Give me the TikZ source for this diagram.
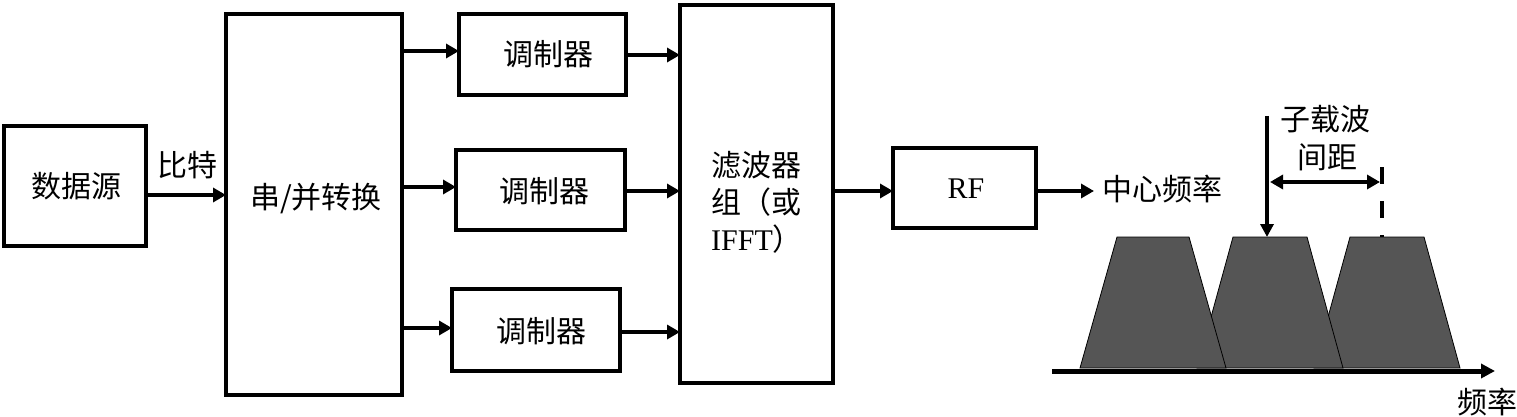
\documentclass[tikz,border=0pt]{standalone}
\usepackage{fontspec}
\setmainfont{Liberation Serif}
\newfontfamily\cjk{Noto Sans CJK SC}
\usetikzlibrary{arrows.meta}
\definecolor{trapgray}{RGB}{85,85,85}
\tikzset{
  blk/.style={draw=black, line width=3.8pt, fill=white, inner sep=0pt, outer sep=0pt},
  txt/.style={font=\cjk\fontsize{30}{37}\selectfont, inner sep=0pt},
  arr/.style={line width=4pt, -{Triangle[length=13pt,width=14pt]}},
  darr/.style={line width=3.5pt, {Triangle[length=13pt,width=14pt]}-{Triangle[length=13pt,width=14pt]}},
  trap/.style={fill=trapgray, draw=black, line width=0.8pt},
}
\begin{document}
\begin{tikzpicture}[x=1pt,y=-1pt]
\useasboundingbox (0,0) rectangle (1517,417);
% blocks
\node[blk, minimum width=142pt, minimum height=120pt] (src) at (75,186) {};
\node[txt] (srct) at (76,186) {数据源};
\node[blk, minimum width=176pt, minimum height=381pt] (sp) at (314,204.5) {};
\node[txt] (spt) at (316,199) {串/并转换};
\node[blk, minimum width=167pt, minimum height=81pt] (m1) at (542.5,54.5) {};
\node[txt] (m1t) at (548,54) {调制器};
\node[blk, minimum width=169pt, minimum height=80pt] (m2) at (540.5,190) {};
\node[txt] (m2t) at (544,191) {调制器};
\node[blk, minimum width=168pt, minimum height=82pt] (m3) at (536,330) {};
\node[txt] (m3t) at (541,331) {调制器};
\node[blk, minimum width=153pt, minimum height=378pt] (filt) at (756.5,194) {};
\node[txt, align=left] (filtt) at (757,202) {滤波器\\组（或\\{\rmfamily IFFT}）};
\node[blk, minimum width=143pt, minimum height=80pt] (rf) at (964.5,188) {};
\node[inner sep=0pt, font=\fontsize{30}{35}\selectfont] (rft) at (966,189) {RF};
% labels
\node[txt] (bit) at (187,165) {比特};
\node[txt, anchor=west] (fc) at (1102,189) {中心频率};
\node[txt] (sub1) at (1325,119) {子载波};
\node[txt] (sub2) at (1327,157) {间距};
\node[txt] (freq) at (1487,402) {频率};
% connectors
\draw[arr] (src.east |- 0,195) -- (sp.west |- 0,195);
\draw[arr] (sp.east |- 0,51) -- (m1.west |- 0,51);
\draw[arr] (sp.east |- 0,187) -- (m2.west |- 0,187);
\draw[arr] (sp.east |- 0,328) -- (m3.west |- 0,328);
\draw[arr] (m1.east |- 0,55) -- (filt.west |- 0,55);
\draw[arr] (m2.east |- 0,191) -- (filt.west |- 0,191);
\draw[arr] (m3.east |- 0,332) -- (filt.west |- 0,332);
\draw[arr] (filt.east |- 0,191) -- (rf.west |- 0,191);
\coordinate (fcend) at (1094,191);
\draw[arr] (rf.east |- 0,191) -- (fcend);
% spectrum
\draw[trap] (1314,368) -- (1350,237) -- (1424,237) -- (1460,368) -- cycle;
\draw[trap] (1197,368) -- (1233,237) -- (1307,237) -- (1343,368) -- cycle;
\draw[trap] (1080,368) -- (1117,237) -- (1189,237) -- (1226,368) -- cycle;
\coordinate (ax0) at (1052,371);
\coordinate (ax1) at (1495,371);
\draw[line width=5pt, -{Triangle[length=14pt,width=14pt]}] (ax0) -- (ax1);
\coordinate (dn0) at (1267,116);
\coordinate (dn1) at (1267,237);
\draw[line width=3.5pt, -{Triangle[length=13pt,width=13pt]}] (dn0) -- (dn1);
\coordinate (sp0) at (1270,182);
\coordinate (sp1) at (1380,182);
\draw[darr] (sp0) -- (sp1);
\coordinate (ds0) at (1382,167);
\coordinate (ds1) at (1382,237);
\draw[line width=4pt, dash pattern=on 17pt off 17pt] (ds0) -- (ds1);
\end{tikzpicture}
\end{document}
